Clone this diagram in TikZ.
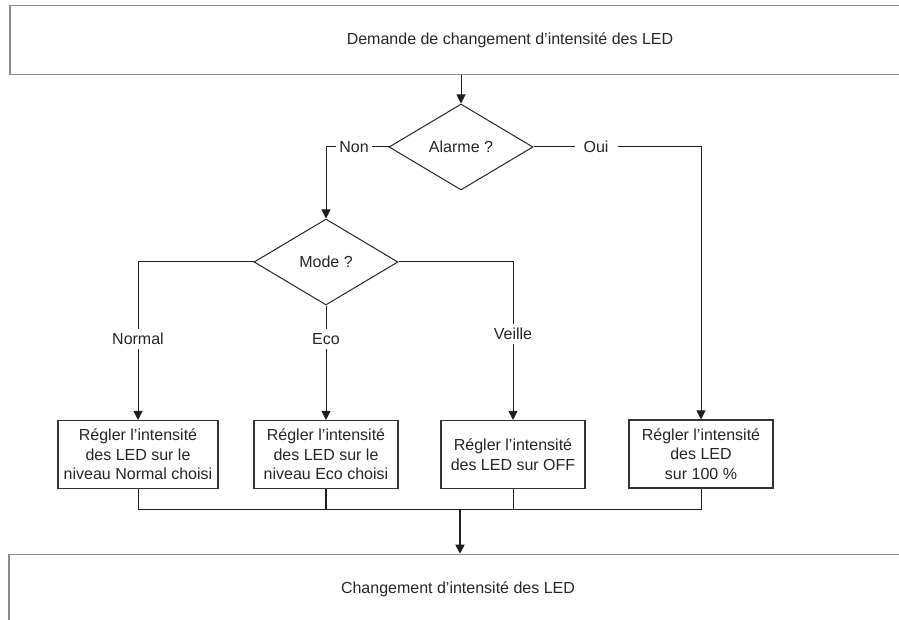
\documentclass[tikz,border=0pt]{standalone}
\usepackage{fontspec}
\setmainfont{Liberation Sans}
\usetikzlibrary{shapes.geometric,arrows.meta}
\begin{document}
\begin{tikzpicture}[x=1pt,y=-1pt,
  every node/.style={font=\fontsize{16}{19.5}\selectfont, text=black!85},
  bigbox/.style={rectangle, draw=black!45, line width=1.6pt, minimum height=69pt, inner sep=0pt},
  decision/.style={diamond, draw=black!85, line width=1pt, minimum width=144pt, minimum height=86pt, inner sep=0pt},
  action/.style={rectangle, draw=black!80, line width=1.1pt, minimum height=68pt, minimum width=144pt, inner sep=2pt, align=center},
  flow/.style={draw=black!88, line width=1pt},
  arr/.style={flow, -{Triangle[length=9pt,width=9pt]}},
  lbl/.style={fill=white, inner xsep=3pt, inner ysep=4pt}
]
\useasboundingbox (0,0) rectangle (899,620);

\node[bigbox, minimum width=1000pt] (start) at (510,40.2) {Demande de changement d’intensité des LED};
\node[bigbox, minimum width=898pt] (end) at (458,589) {Changement d’intensité des LED};

\node[decision] (alarm) at (461,147) {Alarme ?};
\node[decision] (mode) at (326,262) {Mode ?};

\node[action, minimum width=160pt] (b1) at (138,454.5) {Régler l’intensité\\des LED sur le\\niveau Normal choisi};
\node[action] (b2) at (326,454.5) {Régler l’intensité\\des LED sur le\\niveau Eco choisi};
\node[action] (b3) at (513,454.5) {Régler l’intensité\\des LED sur OFF};
\node[action] (b4) at (701,454) {Régler l’intensité\\des LED\\sur 100 \%};

\draw[arr] (start.south -| alarm.north) -- (alarm.north);
\draw[arr] (alarm.west) -| (mode.north);
\draw[arr] (alarm.east) -| (b4.north);
\draw[arr] (mode.west) -| (b1.north);
\draw[arr] (mode.south) -- (b2.north);
\draw[arr] (mode.east) -| (b3.north);

\node[lbl] (non) at (354,147) {Non};
\node[lbl, minimum width=43pt] (oui) at (596,147) {Oui};
\node[lbl] (lnormal) at (138,339) {Normal};
\node[lbl] (leco) at (326,339) {Eco};
\node[lbl] (lveille) at (513,334) {Veille};

\coordinate (m) at (460,509.5);
\draw[flow] (b1.south) |- (m);
\draw[flow] (b3.south) |- (m);
\draw[flow] (b4.south) |- (m);
\draw[flow, line width=1.8pt] (b2.south) |- (m);
\draw[arr, line width=1.8pt] (m) -- (m |- end.north);
\end{tikzpicture}
\end{document}
